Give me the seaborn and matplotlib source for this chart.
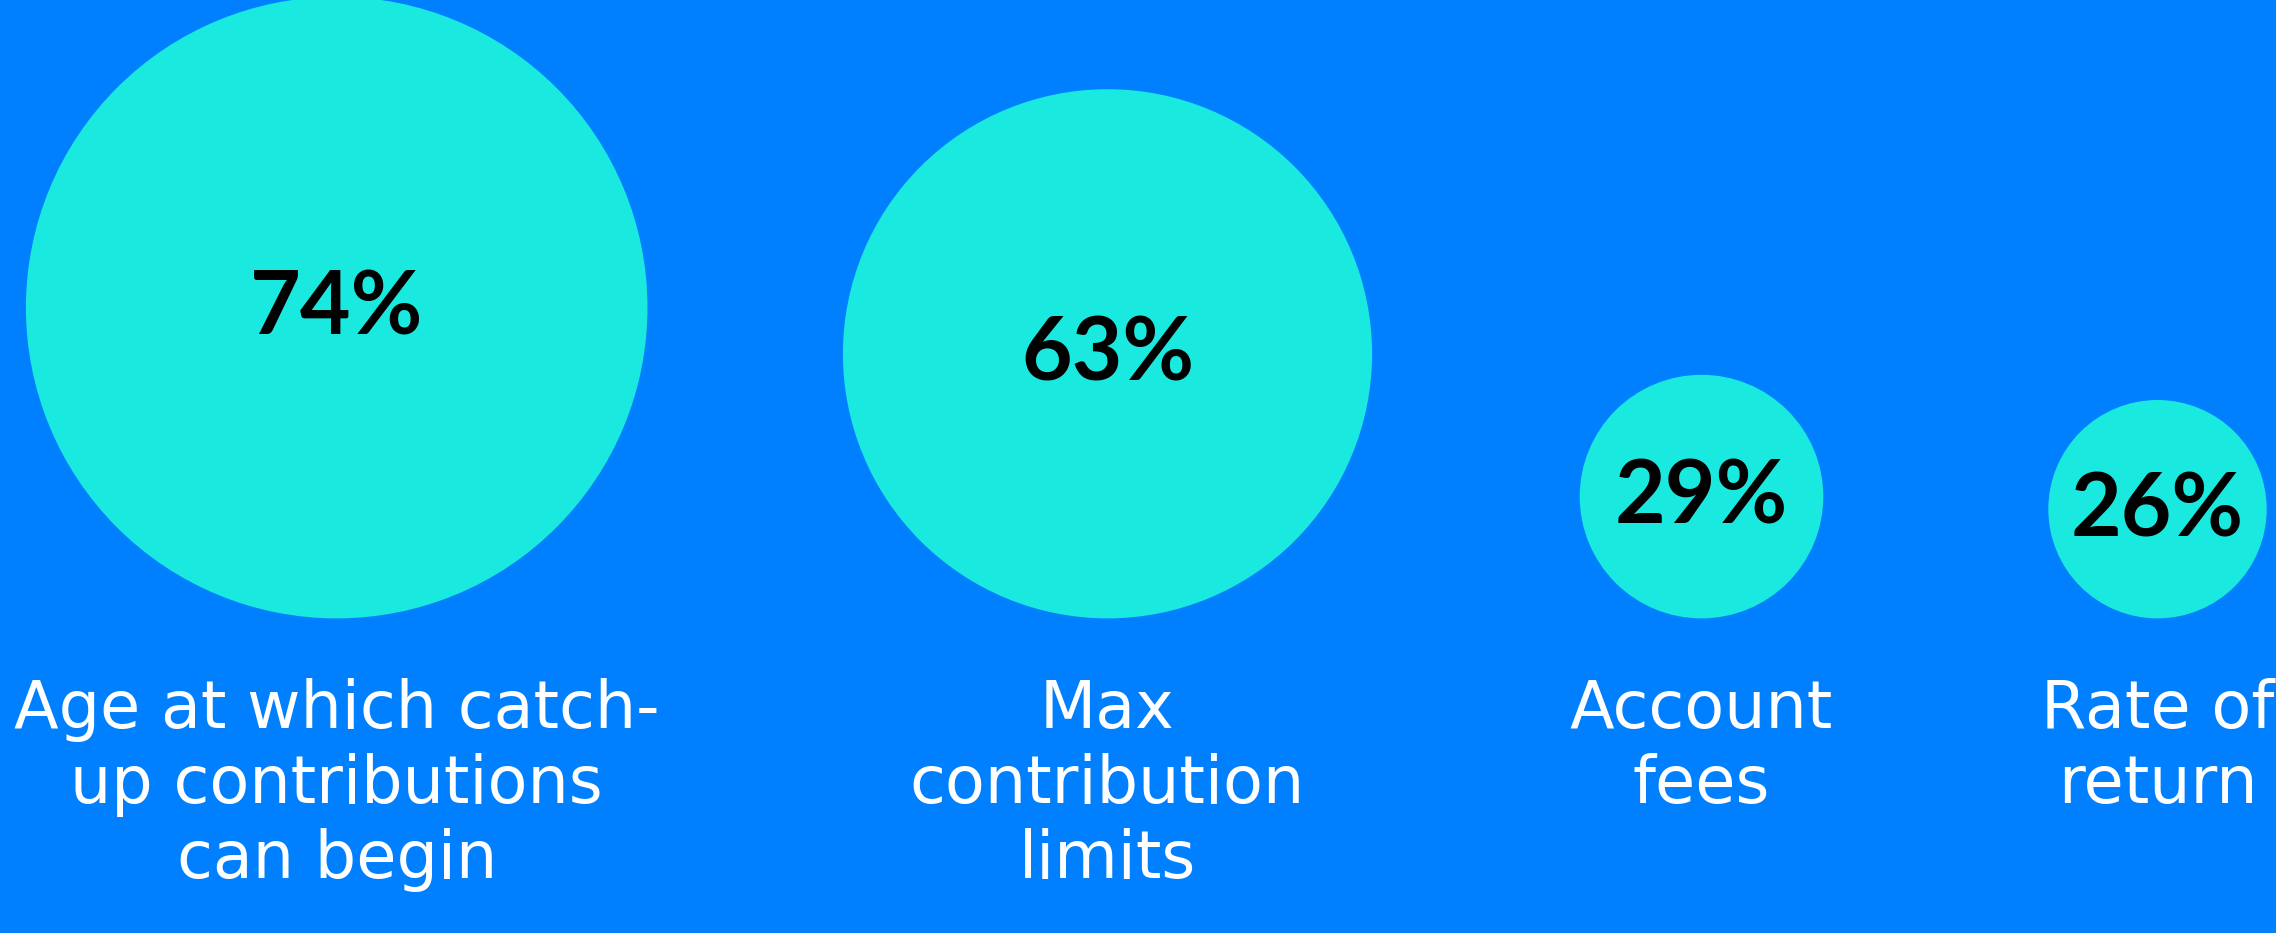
import matplotlib
matplotlib.use("Agg")
import matplotlib.pyplot as plt
import seaborn as sns
import pandas as pd
import numpy as np

# ---- data ----
categories = ["Age at which catch-\nup contributions\ncan begin",
              "Max\ncontribution\nlimits",
              "Account\nfees",
              "Rate of\nreturn"]
values = [74, 63, 29, 26]
value_labels = ["74%", "63%", "29%", "26%"]

# ---- layout ----
W, H, DPI = 2276, 933, 100
x_pos = [336.7, 1107.5, 1701.5, 2157.5]
baseline = 618.4          # common bottom of the bubbles (px)
px_per_unit = 4.2         # bubble radius per percentage point (px)
label_base = 728          # baseline of first category line (px)
line_step = 75            # distance between category lines (px)
bg = "#0080FF"
bubble = "#1AE9E0"

sns.set_theme(style="white")
plt.rcParams["font.family"] = ["Lato", "DejaVu Sans"]

fig = plt.figure(figsize=(W / DPI, H / DPI), dpi=DPI, facecolor=bg)
ax = fig.add_axes([0, 0, 1, 1])
ax.set_facecolor(bg)
ax.set_xlim(0, W)
ax.set_ylim(H, 0)
ax.set_axis_off()

radius = np.array(values) * px_per_unit
df = pd.DataFrame({
    "x": x_pos,
    "y": baseline - radius,
    "category": categories,
})
marker_area = (2 * radius * 72 / DPI) ** 2

sns.scatterplot(data=df, x="x", y="y", s=marker_area, color=bubble,
                linewidth=0, legend=False, ax=ax, zorder=2)

for xi, yi, lab in zip(df["x"], df["y"], value_labels):
    ax.text(xi, yi + 27, lab, ha="center", va="baseline", fontsize=63,
            fontweight="bold", color="black", zorder=3)

for xi, cat in zip(df["x"], categories):
    for k, line in enumerate(cat.split("\n")):
        ax.text(xi, label_base + k * line_step, line, ha="center",
                va="baseline", fontsize=47, color="white",
                family="DejaVu Sans", zorder=3)

fig.savefig("out.png", dpi=DPI, facecolor=bg)
